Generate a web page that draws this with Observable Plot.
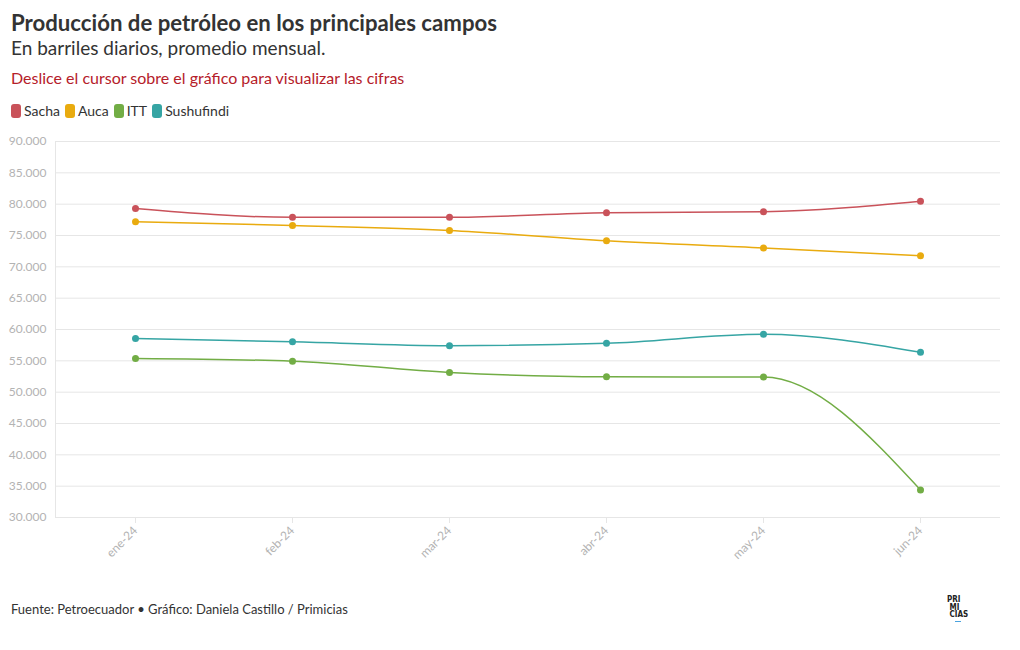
<!DOCTYPE html>
<html><head><meta charset="utf-8">
<script src="https://cdn.jsdelivr.net/npm/d3@7"></script>
<script src="https://cdn.jsdelivr.net/npm/@observablehq/plot@0.6"></script>
<style>
body{margin:0;background:#fff;font-family:"Source Sans Pro",Lato,"Noto Sans",sans-serif;color:#333;width:1020px;height:650px;overflow:hidden;position:relative;}
#title{position:absolute;left:11px;top:9px;font-size:22.2px;font-weight:700;color:#333;white-space:nowrap;}
#sub{position:absolute;left:11px;top:36px;font-size:19px;color:#333;white-space:nowrap;}
#note{position:absolute;left:11px;top:68px;font-size:16px;color:#b5202a;white-space:nowrap;}
#legend{position:absolute;left:11px;top:102px;font-size:14px;color:#333;display:flex;gap:5px;align-items:center;}
#legend span.item{display:flex;align-items:center;gap:3px;}
#legend i{display:inline-block;width:10px;height:14px;border-radius:3px;}
#chart{position:absolute;left:0;top:130px;}
#caption{position:absolute;left:11px;top:601px;font-size:13px;color:#333;white-space:nowrap;}
#logo{position:absolute;left:947px;top:596px;font-size:8px;font-weight:900;line-height:7.5px;color:#222;font-family:"DejaVu Sans Condensed","DejaVu Sans",sans-serif;}
#logo .u{display:block;width:6px;height:1px;background:#4aa3df;margin-left:8px;margin-top:2px;}
</style>
</head><body>
<div id="title">Producción de petróleo en los principales campos</div>
<div id="sub">En barriles diarios, promedio mensual.</div>
<div id="note">Deslice el cursor sobre el gráfico para visualizar las cifras</div>
<div id="legend"></div>
<div id="chart"></div>
<div id="caption">Fuente: Petroecuador • Gráfico: Daniela Castillo / Primicias</div>
<div id="logo">PRI<br>&nbsp;MI<br>&nbsp;CIAS<span class="u"></span></div>
<script>
const months = ["ene-24","feb-24","mar-24","abr-24","may-24","jun-24"];
const seriesNames = ["Sacha","Auca","ITT","Sushufindi"];
const seriesColors = ["#c9525a","#e9ab0f","#72ad45","#36a5a4"];
const sacha = [79300, 77900, 77900, 78650, 78800, 80480];
const auca = [77200, 76600, 75800, 74150, 73000, 71750];
const itt = [55380, 54950, 53150, 52450, 52420, 34400];
const sushufindi = [58550, 58050, 57420, 57800, 59230, 56380];
const yTicks = [30000,35000,40000,45000,50000,55000,60000,65000,70000,75000,80000,85000,90000];

const values = [sacha, auca, itt, sushufindi];
const data = [];
seriesNames.forEach((s, i) => months.forEach((m, j) => data.push({serie: s, mes: m, valor: values[i][j]})));

const fmt = d3.formatLocale({decimal: ",", thousands: ".", grouping: [3], currency: ["$", ""]}).format(",");

const legend = document.getElementById("legend");
seriesNames.forEach((s, i) => {
  const el = document.createElement("span");
  el.className = "item";
  el.innerHTML = `<i style="background:${seriesColors[i]}"></i>${s}`;
  legend.appendChild(el);
});

const chart = Plot.plot({
  width: 1020,
  height: 457,
  marginLeft: 55,
  marginRight: 20,
  marginTop: 11,
  marginBottom: 70,
  style: {fontFamily: '"Source Sans Pro", Lato, "Noto Sans", sans-serif', background: "#fff"},
  x: {type: "point", domain: months, padding: 0.5},
  y: {domain: [30000, 90000]},
  color: {domain: seriesNames, range: seriesColors},
  marks: [
    Plot.gridY(yTicks, {stroke: "#e6e6e6", strokeOpacity: 1}),
    Plot.frame({anchor: "left", stroke: "#e6e6e6"}),
    Plot.axisY(yTicks, {tickSize: 0, tickPadding: 9, tickFormat: fmt, fill: "#b3b3b3", fontSize: 12, label: null}),
    Plot.axisX({tickSize: 6, stroke: "#e6e6e6", tickRotate: -45, tickPadding: 5, fill: "#b3b3b3", fontSize: 12, label: null}),
    Plot.line(data, {x: "mes", y: "valor", z: "serie", stroke: "serie", strokeWidth: 1.5, curve: "monotone-x"}),
    Plot.dot(data, {x: "mes", y: "valor", fill: "serie", r: 3.5})
  ]
});
document.getElementById("chart").appendChild(chart);
</script>
</body></html>
